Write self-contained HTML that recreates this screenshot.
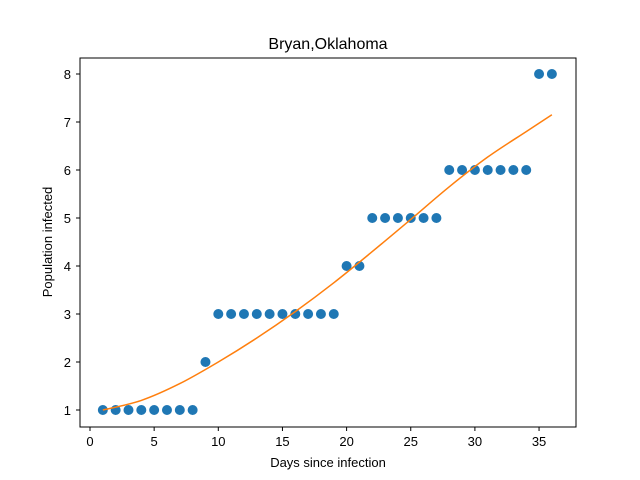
<!DOCTYPE html>
<html><head><meta charset="utf-8"><style>
html,body{margin:0;padding:0;background:#fff;}
svg{display:block;font-family:"Liberation Sans","DejaVu Sans",sans-serif;}
</style></head><body>
<svg id="chart" width="640" height="480">
<rect width="640" height="480" fill="#fff"/>
<text x="328" y="49" font-size="16" text-anchor="middle">Bryan,Oklahoma</text>
<g id="marks"></g>
<rect x="80" y="58" width="496" height="369" fill="none" stroke="#000" stroke-width="1"/>
<g id="xticks"></g><g id="yticks"></g>
<text x="328" y="467" font-size="13" text-anchor="middle">Days since infection</text>
<text transform="translate(52,242) rotate(-90)" font-size="13" text-anchor="middle">Population infected</text>
</svg>
<script>
const days = [1,2,3,4,5,6,7,8,9,10,11,12,13,14,15,16,17,18,19,20,21,22,23,24,25,26,27,28,29,30,31,32,33,34,35,36];
const infected = [1,1,1,1,1,1,1,1,2,3,3,3,3,3,3,3,3,3,3,4,4,5,5,5,5,5,5,6,6,6,6,6,6,6,8,8];
const fitX = [1,4,7,10,13,16,19,22,25,28,31,34,36];
const fitY = [1.0,1.2,1.55,2.0,2.5,3.05,3.65,4.3,4.97,5.65,6.27,6.8,7.15];
const xTicks = [0,5,10,15,20,25,30,35];
const yTicks = [1,2,3,4,5,6,7,8];
const NS="http://www.w3.org/2000/svg";
const sx = v => 90 + v*12.83;
const sy = v => 410 - (v-1)*48;
const marks=document.getElementById('marks');
days.forEach((d,i)=>{
  const c=document.createElementNS(NS,'circle');
  c.setAttribute('cx',sx(d));c.setAttribute('cy',sy(infected[i]));c.setAttribute('r',5);c.setAttribute('fill','#1f77b4');
  
  
  marks.appendChild(c);
});
let dStr='M'+sx(fitX[0])+','+sy(fitY[0]);
for(let i=1;i<fitX.length;i++){
  const x0=fitX[i-1],y0=fitY[i-1],x1=fitX[i],y1=fitY[i];
  const xm=fitX[Math.max(0,i-2)],ym=fitY[Math.max(0,i-2)],xp=fitX[Math.min(fitX.length-1,i+1)],yp=fitY[Math.min(fitX.length-1,i+1)];
  const c1x=sx(x0)+(sx(x1)-sx(xm))/6,c1y=sy(y0)+(sy(y1)-sy(ym))/6;
  const c2x=sx(x1)-(sx(xp)-sx(x0))/6,c2y=sy(y1)-(sy(yp)-sy(y0))/6;
  dStr+=` C${c1x},${c1y} ${c2x},${c2y} ${sx(x1)},${sy(y1)}`;
}
const p=document.createElementNS(NS,'path');
p.setAttribute('d',dStr);p.setAttribute('fill','none');p.setAttribute('stroke','#ff7f0e');p.setAttribute('stroke-width',1.5);


marks.appendChild(p);
const xt=document.getElementById('xticks');
xTicks.forEach(t=>{
  const l=document.createElementNS(NS,'line');
  l.setAttribute('x1',sx(t));l.setAttribute('x2',sx(t));l.setAttribute('y1',427);l.setAttribute('y2',431);l.setAttribute('stroke','#000');
  
  
  xt.appendChild(l);
  const tx=document.createElementNS(NS,'text');
  tx.setAttribute('x',sx(t));tx.setAttribute('y',446);tx.setAttribute('font-size',13);tx.setAttribute('text-anchor','middle');tx.textContent=t;
  
  
  xt.appendChild(tx);
});
const yt=document.getElementById('yticks');
yTicks.forEach(t=>{
  const l=document.createElementNS(NS,'line');
  l.setAttribute('x1',76);l.setAttribute('x2',80);l.setAttribute('y1',sy(t));l.setAttribute('y2',sy(t));l.setAttribute('stroke','#000');
  
  
  yt.appendChild(l);
  const tx=document.createElementNS(NS,'text');
  tx.setAttribute('x',71);tx.setAttribute('y',sy(t)+5);tx.setAttribute('font-size',13);tx.setAttribute('text-anchor','end');tx.textContent=t;
  
  
  yt.appendChild(tx);
});
</script>
</body></html>
